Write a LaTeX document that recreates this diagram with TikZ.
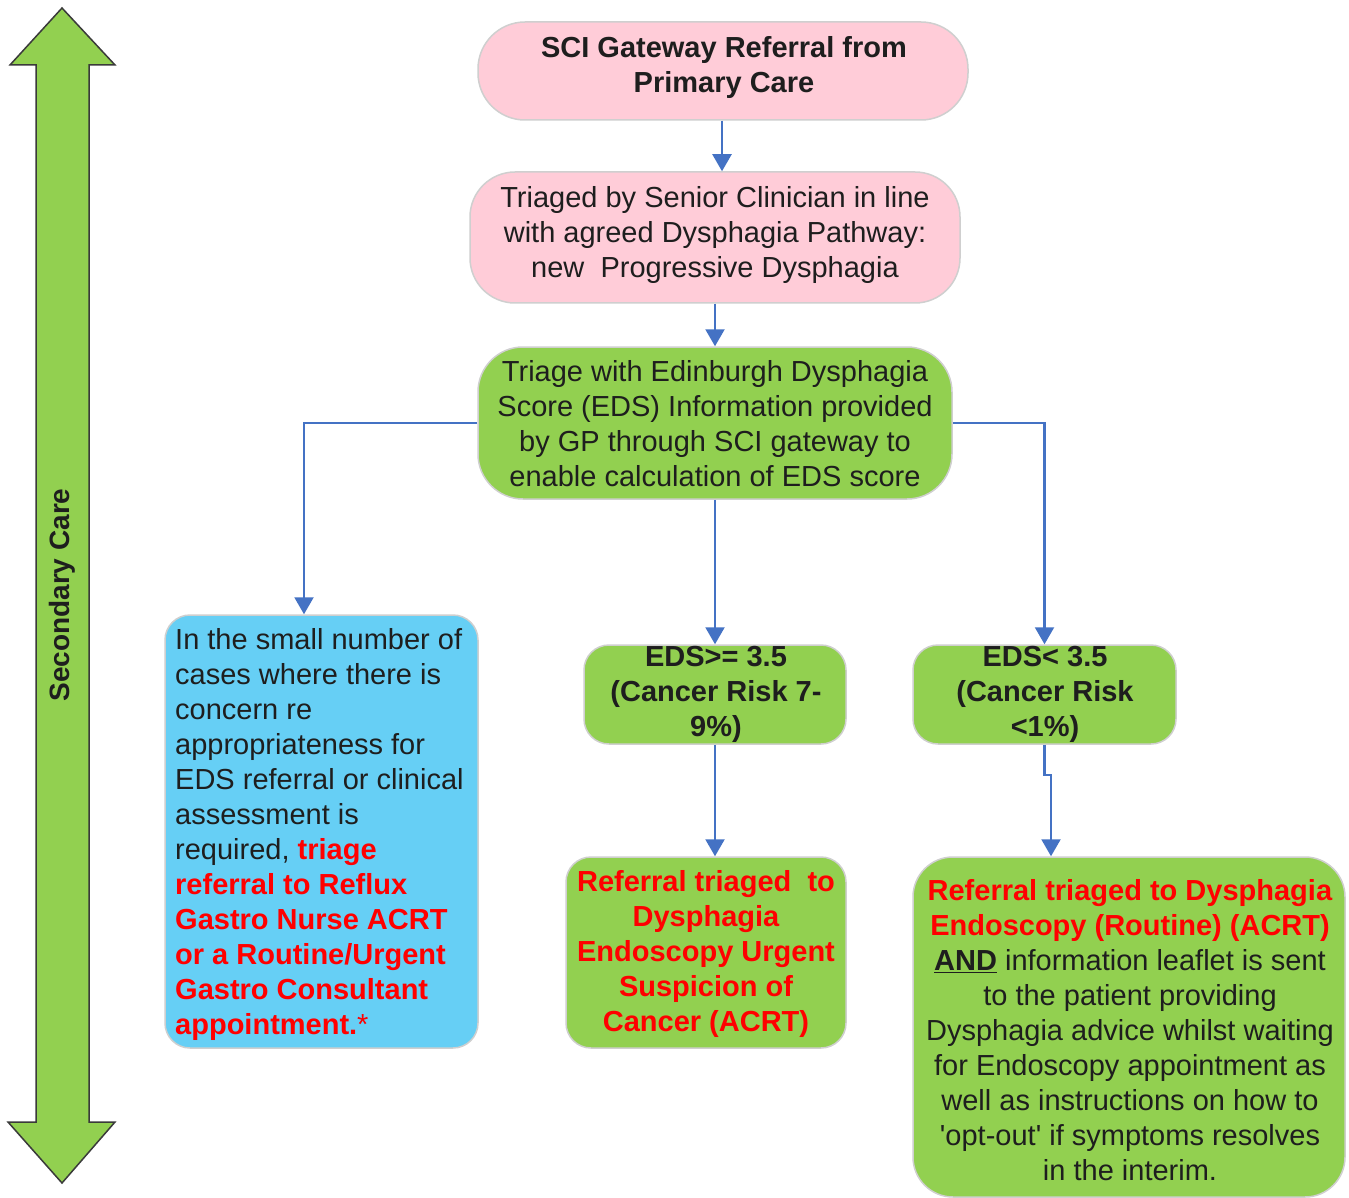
\documentclass[tikz,border=0pt]{standalone}
\usepackage{fontspec}
\setmainfont{Liberation Sans}
\usetikzlibrary{arrows.meta,calc}
\definecolor{pinkc}{HTML}{FFCCD8}
\definecolor{greenc}{HTML}{92D050}
\definecolor{bluec}{HTML}{66CFF5}
\definecolor{redc}{HTML}{FF0000}
\definecolor{arrc}{HTML}{4472C4}
\definecolor{boxline}{HTML}{CFCFCF}
\definecolor{bigline}{HTML}{3A3A3A}
\definecolor{textc}{HTML}{1E1E1E}
\begin{document}
\begin{tikzpicture}[x=1pt,y=-1pt,
  rbox/.style={draw=boxline, line width=1.5pt, inner sep=0pt},
  txt/.style={inner sep=0pt, align=center, text=textc, font=\fontsize{29}{35}\selectfont},
  btxt/.style={txt, font=\fontsize{29}{35}\selectfont\bfseries},
  arr/.style={draw=arrc, line width=2.2pt, -{Triangle[length=17pt,width=19pt]}}]
\useasboundingbox (0,0) rectangle (1349,1198);
\fill[white] (0,0) rectangle (1349,1198);

% big double arrow
\draw[draw=bigline, fill=greenc, line width=1.5pt, line join=miter]
  (62,8) -- (115,65) -- (89,65) -- (89,1122) -- (115,1122) -- (62,1183)
  -- (8,1122) -- (36,1122) -- (36,65) -- (10,65) -- cycle;
\node[rotate=90, text=textc, font=\fontsize{28}{34}\selectfont\bfseries] (sc) at (62,595) {Secondary Care};

% boxes
\node[rbox, fill=pinkc, rounded corners=47pt, minimum width=490pt, minimum height=98pt] (b1) at (723,71) {};
\node[btxt] (t1) at (724,68) {SCI Gateway Referral from\\Primary Care};

\node[rbox, fill=pinkc, rounded corners=45pt, minimum width=490pt, minimum height=131pt] (b2) at (715,237.5) {};
\node[txt] (t2) at (715,235) {Triaged by Senior Clinician in line\\with agreed Dysphagia Pathway:\\new\ \ Progressive Dysphagia};

\node[rbox, fill=greenc, rounded corners=45pt, minimum width=474pt, minimum height=152pt] (b3) at (715,423) {};
\node[txt] (t3) at (715,424) {Triage with Edinburgh Dysphagia\\Score (EDS) Information provided\\by GP through SCI gateway to\\enable calculation of EDS score};

\node[rbox, fill=bluec, rounded corners=25pt, minimum width=313pt, minimum height=433pt] (b4) at (321.5,831.5) {};
\node[txt, align=left, anchor=west] (t4) at (175,834) {In the small number of\\cases where there is\\concern re\\appropriateness for\\EDS referral or clinical\\assessment is\\required, \textcolor{redc}{\textbf{triage}}\\
\textcolor{redc}{\textbf{referral to Reflux}}\\
\textcolor{redc}{\textbf{Gastro Nurse ACRT}}\\
\textcolor{redc}{\textbf{or a Routine/Urgent}}\\
\textcolor{redc}{\textbf{Gastro Consultant}}\\
\textcolor{redc}{\textbf{appointment.}*}};

\node[rbox, fill=greenc, rounded corners=25pt, minimum width=262pt, minimum height=99pt] (b5) at (715,694.5) {};
\node[btxt] (t5) at (716,694) {EDS>= 3.5\\(Cancer Risk 7-\\9\%)};

\node[rbox, fill=greenc, rounded corners=25pt, minimum width=263pt, minimum height=99pt] (b6) at (1044.5,694.5) {};
\node[btxt] (t6) at (1045,694) {EDS< 3.5\\(Cancer Risk\\<1\%)};

\node[rbox, fill=greenc, rounded corners=25pt, minimum width=280pt, minimum height=191pt] (b7) at (706,952.5) {};
\node[btxt, text=redc] (t7) at (706,954) {Referral triaged\ \ to\\Dysphagia\\Endoscopy Urgent\\Suspicion of\\Cancer (ACRT)};

\node[rbox, fill=greenc, rounded corners=40pt, minimum width=432pt, minimum height=340pt] (b8) at (1129,1027) {};
\node[txt] (t8) at (1130,1030) {\textcolor{redc}{\textbf{Referral triaged to Dysphagia}}\\
\textcolor{redc}{\textbf{Endoscopy (Routine) (ACRT)}}\\
\textbf{\underline{AND}} information leaflet is sent\\to the patient providing\\Dysphagia advice whilst waiting\\for Endoscopy appointment as\\well as instructions on how to\\\textquotesingle opt-out\textquotesingle{} if symptoms resolves\\in the interim.};

% connectors
\draw[arr] (b1.south -| 722,0) -- (722,0 |- b2.north);
\draw[arr] (b2.south) -- (b3.north);
\draw[arr] (b3.west) -| ([xshift=-17.5pt]b4.north);
\draw[arr] (b3.east) -| (b6.north);
\draw[arr] (b3.south) -- (b5.north);
\draw[arr] (b5.south) -- (b5.south |- b7.north);
\coordinate (j) at (1051,775);
\draw[arr] (b6.south) |- (j) -- (j |- b8.north);
\end{tikzpicture}
\end{document}
